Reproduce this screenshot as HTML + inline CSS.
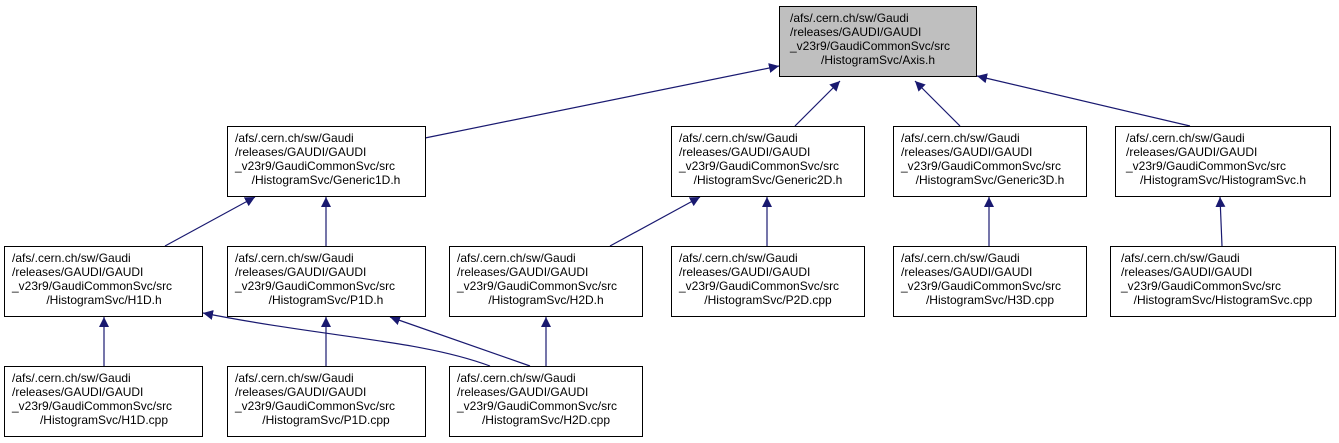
<!DOCTYPE html>
<html><head><meta charset="utf-8"><style>
html,body{margin:0;padding:0;background:#fff;}
svg{display:block;}
text{font-family:"Liberation Sans",Helvetica,Arial,sans-serif;font-size:12px;fill:#000;}
</style></head><body>
<svg width="1339" height="443" viewBox="0 0 1339 443" xmlns="http://www.w3.org/2000/svg">
<defs>
<marker id="a" viewBox="0 0 10 10" refX="10" refY="5" markerWidth="10" markerHeight="10" markerUnits="userSpaceOnUse" orient="auto">
<path d="M0,0 L10,5 L0,10 z" fill="#191970"/>
</marker>
</defs>
<g stroke="#191970" stroke-width="1.2" fill="none" marker-end="url(#a)">
<line x1="425" y1="138" x2="779" y2="66"/>
<line x1="795" y1="126" x2="840" y2="81"/>
<line x1="960" y1="126" x2="915" y2="81"/>
<line x1="1190" y1="126" x2="977" y2="76"/>
<line x1="165" y1="246" x2="255" y2="197"/>
<line x1="326" y1="246" x2="326" y2="197"/>
<line x1="610" y1="246" x2="700" y2="197"/>
<line x1="767" y1="246" x2="767" y2="197"/>
<line x1="989" y1="246" x2="989" y2="197"/>
<line x1="1222" y1="246" x2="1220" y2="197"/>
<line x1="104" y1="366" x2="104" y2="317"/>
<line x1="326" y1="366" x2="326" y2="317"/>
<line x1="546" y1="366" x2="546" y2="317"/>
<path d="M490,366 C420,340 330,338 203,313"/>
<line x1="530" y1="366" x2="390" y2="317"/>
</g>
<g stroke="#000" stroke-width="1" fill="#fff">
<rect x="779.5" y="6.5" width="197" height="70" fill="#bfbfbf"/>
<rect x="227.5" y="126.5" width="198" height="70"/>
<rect x="671.5" y="126.5" width="193" height="70"/>
<rect x="893.5" y="126.5" width="193" height="70"/>
<rect x="1115.5" y="126.5" width="215" height="70"/>
<rect x="4.5" y="246.5" width="198" height="70"/>
<rect x="227.5" y="246.5" width="198" height="70"/>
<rect x="449.5" y="246.5" width="193" height="70"/>
<rect x="671.5" y="246.5" width="193" height="70"/>
<rect x="893.5" y="246.5" width="193" height="70"/>
<rect x="1110.5" y="246.5" width="225" height="70"/>
<rect x="4.5" y="366.5" width="198" height="70"/>
<rect x="227.5" y="366.5" width="198" height="70"/>
<rect x="449.5" y="366.5" width="193" height="70"/>
</g>
<g>
<text x="790" y="22">/afs/.cern.ch/sw/Gaudi</text><text x="790" y="36">/releases/GAUDI/GAUDI</text><text x="790" y="50">_v23r9/GaudiCommonSvc/src</text><text x="878" y="64" text-anchor="middle">/HistogramSvc/Axis.h</text>

<text x="235" y="142">/afs/.cern.ch/sw/Gaudi</text><text x="235" y="156">/releases/GAUDI/GAUDI</text><text x="235" y="170">_v23r9/GaudiCommonSvc/src</text><text x="326" y="184" text-anchor="middle">/HistogramSvc/Generic1D.h</text>
<text x="679" y="142">/afs/.cern.ch/sw/Gaudi</text><text x="679" y="156">/releases/GAUDI/GAUDI</text><text x="679" y="170">_v23r9/GaudiCommonSvc/src</text><text x="768" y="184" text-anchor="middle">/HistogramSvc/Generic2D.h</text>
<text x="901" y="142">/afs/.cern.ch/sw/Gaudi</text><text x="901" y="156">/releases/GAUDI/GAUDI</text><text x="901" y="170">_v23r9/GaudiCommonSvc/src</text><text x="990" y="184" text-anchor="middle">/HistogramSvc/Generic3D.h</text>
<text x="1126" y="142">/afs/.cern.ch/sw/Gaudi</text><text x="1126" y="156">/releases/GAUDI/GAUDI</text><text x="1126" y="170">_v23r9/GaudiCommonSvc/src</text><text x="1223" y="184" text-anchor="middle">/HistogramSvc/HistogramSvc.h</text>

<text x="12" y="262">/afs/.cern.ch/sw/Gaudi</text><text x="12" y="276">/releases/GAUDI/GAUDI</text><text x="12" y="290">_v23r9/GaudiCommonSvc/src</text><text x="104" y="304" text-anchor="middle">/HistogramSvc/H1D.h</text>
<text x="235" y="262">/afs/.cern.ch/sw/Gaudi</text><text x="235" y="276">/releases/GAUDI/GAUDI</text><text x="235" y="290">_v23r9/GaudiCommonSvc/src</text><text x="326" y="304" text-anchor="middle">/HistogramSvc/P1D.h</text>
<text x="457" y="262">/afs/.cern.ch/sw/Gaudi</text><text x="457" y="276">/releases/GAUDI/GAUDI</text><text x="457" y="290">_v23r9/GaudiCommonSvc/src</text><text x="546" y="304" text-anchor="middle">/HistogramSvc/H2D.h</text>
<text x="679" y="262">/afs/.cern.ch/sw/Gaudi</text><text x="679" y="276">/releases/GAUDI/GAUDI</text><text x="679" y="290">_v23r9/GaudiCommonSvc/src</text><text x="768" y="304" text-anchor="middle">/HistogramSvc/P2D.cpp</text>
<text x="901" y="262">/afs/.cern.ch/sw/Gaudi</text><text x="901" y="276">/releases/GAUDI/GAUDI</text><text x="901" y="290">_v23r9/GaudiCommonSvc/src</text><text x="990" y="304" text-anchor="middle">/HistogramSvc/H3D.cpp</text>
<text x="1121" y="262">/afs/.cern.ch/sw/Gaudi</text><text x="1121" y="276">/releases/GAUDI/GAUDI</text><text x="1121" y="290">_v23r9/GaudiCommonSvc/src</text><text x="1223" y="304" text-anchor="middle">/HistogramSvc/HistogramSvc.cpp</text>

<text x="12" y="382">/afs/.cern.ch/sw/Gaudi</text><text x="12" y="396">/releases/GAUDI/GAUDI</text><text x="12" y="410">_v23r9/GaudiCommonSvc/src</text><text x="104" y="424" text-anchor="middle">/HistogramSvc/H1D.cpp</text>
<text x="235" y="382">/afs/.cern.ch/sw/Gaudi</text><text x="235" y="396">/releases/GAUDI/GAUDI</text><text x="235" y="410">_v23r9/GaudiCommonSvc/src</text><text x="326" y="424" text-anchor="middle">/HistogramSvc/P1D.cpp</text>
<text x="457" y="382">/afs/.cern.ch/sw/Gaudi</text><text x="457" y="396">/releases/GAUDI/GAUDI</text><text x="457" y="410">_v23r9/GaudiCommonSvc/src</text><text x="546" y="424" text-anchor="middle">/HistogramSvc/H2D.cpp</text>
</g>
</svg>
</body></html>
